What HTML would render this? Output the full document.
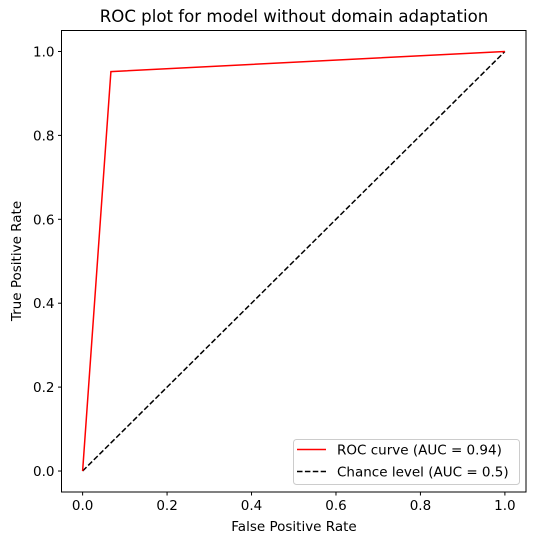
<!DOCTYPE html>
<html><head><meta charset="utf-8"><style>
html,body{margin:0;padding:0;background:#fff;}
svg{display:block;font-family:"DejaVu Sans","Liberation Sans",sans-serif;}
</style></head><body>
<svg id="chart" width="536" height="545" viewBox="0 0 536 545">
<text x="294" y="22" font-size="16.6" text-anchor="middle">ROC plot for model without domain adaptation</text>
<g id="ticks"></g>
<g id="series"></g>
<rect x="61.5" y="30.5" width="464.5" height="461.5" fill="none" stroke="#000" stroke-width="1"/>
<text x="294" y="531" font-size="13.5" text-anchor="middle">False Positive Rate</text>
<text transform="translate(21,261) rotate(-90)" font-size="13.5" text-anchor="middle">True Positive Rate</text>
<g>
<rect x="293.5" y="439.5" width="226" height="45" rx="3" fill="#fff" fill-opacity="0.8" stroke="#ccc"/>
<line x1="297" y1="449.5" x2="326" y2="449.5" stroke="red" stroke-width="1.5"/>
<text x="337" y="454.5" font-size="13.5">ROC curve (AUC = 0.94)</text>
<line x1="297" y1="471.5" x2="326" y2="471.5" stroke="#000" stroke-width="1.5" stroke-dasharray="5.5,2.4"/>
<text x="337" y="476.5" font-size="13.5">Chance level (AUC = 0.5)</text>
</g>
</svg>
<script>
const fprValues=[0,0.067,1];
const tprValues=[0,0.952,1];
const chanceX=[0,1];
const chanceY=[0,1];
const xTicks=[0,0.2,0.4,0.6,0.8,1.0];
const yTicks=[0,0.2,0.4,0.6,0.8,1.0];
const NS='http://www.w3.org/2000/svg';
const L=61.5,R=526,T=30.5,B=492;
function sx(v){const w=(R-L)/1.1;return L+w*0.05+v*w;}
function sy(v){const h=(B-T)/1.1;return B-h*0.05-v*h;}
const tg=document.getElementById('ticks');
xTicks.forEach(t=>{
 const l=document.createElementNS(NS,'line');
 l.setAttribute('x1',sx(t));l.setAttribute('x2',sx(t));l.setAttribute('y1',B);l.setAttribute('y2',B+3.5);l.setAttribute('stroke','#000');
 
 
 tg.appendChild(l);
 const tx=document.createElementNS(NS,'text');
 tx.setAttribute('x',sx(t));tx.setAttribute('y',B+18);tx.setAttribute('font-size','13.5');tx.setAttribute('text-anchor','middle');
 tx.textContent=t.toFixed(1);
 
 
 tg.appendChild(tx);
});
yTicks.forEach(t=>{
 const l=document.createElementNS(NS,'line');
 l.setAttribute('x1',L-3.5);l.setAttribute('x2',L);l.setAttribute('y1',sy(t));l.setAttribute('y2',sy(t));l.setAttribute('stroke','#000');
 
 
 tg.appendChild(l);
 const tx=document.createElementNS(NS,'text');
 tx.setAttribute('x',L-7);tx.setAttribute('y',sy(t)+5);tx.setAttribute('font-size','13.5');tx.setAttribute('text-anchor','end');
 tx.textContent=t.toFixed(1);
 
 
 tg.appendChild(tx);
});
const sg=document.getElementById('series');
const ch=document.createElementNS(NS,'polyline');
ch.setAttribute('points',chanceX.map((x,i)=>sx(x)+','+sy(chanceY[i])).join(' '));
ch.setAttribute('fill','none');ch.setAttribute('stroke','#000');ch.setAttribute('stroke-width','1.5');ch.setAttribute('stroke-dasharray','5.5,2.4');


sg.appendChild(ch);
const roc=document.createElementNS(NS,'polyline');
roc.setAttribute('points',fprValues.map((x,i)=>sx(x)+','+sy(tprValues[i])).join(' '));
roc.setAttribute('fill','none');roc.setAttribute('stroke','red');roc.setAttribute('stroke-width','1.5');


sg.appendChild(roc);
</script>
</body></html>
